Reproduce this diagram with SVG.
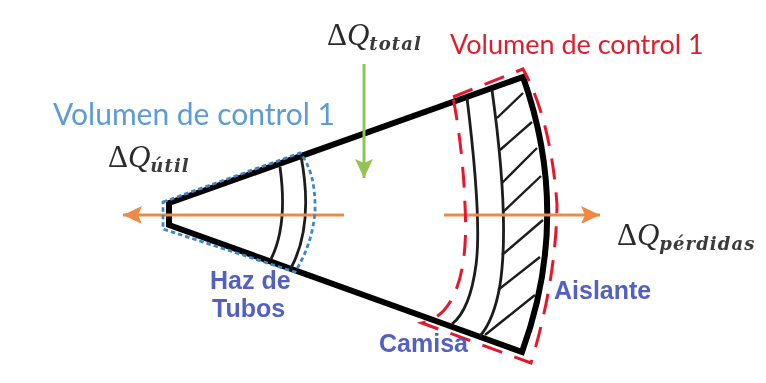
<svg xmlns="http://www.w3.org/2000/svg" width="766" height="383" viewBox="0 0 766 383">
<style>
.thick{fill:none;stroke:#000;stroke-width:6;stroke-linejoin:miter}
.thin{fill:none;stroke:#1c1c1c;stroke-width:2.8}
.hatch{fill:none;stroke:#1c1c1c;stroke-width:2.4}
.red{fill:none;stroke:#e8192c;stroke-width:3;stroke-dasharray:21 13}
.blue{fill:none;stroke:#3f86c4;stroke-width:2.8;stroke-dasharray:4.5 3}
.orange{stroke:#ed8a45;stroke-width:2.8;fill:none}
.green{stroke:#92c353;stroke-width:3;fill:none}
.vol{font-family:Lato,"Open Sans",sans-serif}
.lbl{font-family:"Liberation Sans",Arial,sans-serif;font-size:25px;font-weight:bold;fill:#4452bd;opacity:.92}
.q{font-family:"Liberation Serif","Times New Roman",serif;font-size:31px;fill:#2b2b2b}
.qi{font-style:italic}
.sub{font-family:"DejaVu Serif",serif;font-style:italic;font-weight:bold;font-size:18px;letter-spacing:1.1px;fill:#3a3a3a}
</style>
<defs>
<marker id="ao" markerUnits="userSpaceOnUse" markerWidth="20" markerHeight="20" refX="19" refY="10" orient="auto"><path d="M0 1L19 10L0 19L4 10Z" fill="#ed8a45"/></marker>
<marker id="ag" markerUnits="userSpaceOnUse" markerWidth="20" markerHeight="20" refX="19" refY="10" orient="auto"><path d="M0 1L19 10L0 19L4 10Z" fill="#92c353"/></marker>
<filter id="soft" x="-5%" y="-5%" width="110%" height="110%"><feGaussianBlur stdDeviation="0.5"/></filter>
</defs>
<rect width="766" height="383" fill="#fff"/>
<g id="body" filter="url(#soft)">
<path class="thick" d="M169 225L169 203L523 77Q572 215 522 352Z"/>
<path class="thin" d="M280 167Q288 225 271 259"/>
<path class="thin" d="M301 156Q314 225 291 268"/>
<path class="thin" d="M467 98Q482 220 476 265Q470 310 452 324"/>
<path class="thin" d="M492 90Q510 220 500 285Q494 320 480 336"/>
<path class="hatch" d="M497 118L523 93M500 150L532 122M502 183L537 148M503 212L541 176M502 255L543 220M498 290L540 257M485 335L535 295"/>
</g>
<g id="connectors" filter="url(#soft)">
<path class="orange" d="M344 215L123 215" marker-end="url(#ao)"/>
<path class="orange" d="M444 215L600 215" marker-end="url(#ao)"/>
<path class="green" d="M364 64L364 178" marker-end="url(#ag)"/>
</g>
<g id="vc-blue" filter="url(#soft)">
<path class="blue" d="M163 202L300 153Q316 172 315 212Q312 245 295 272L163 229Z"/>
</g>
<g id="vc-red" filter="url(#soft)">
<path class="red" d="M453 97L523 69Q551 120 557 205Q556 280 531 363L422 323Q445 318 456 290Q468 260 465 205Q463 150 453 97Z"/>
</g>
<g id="labels" filter="url(#soft)">
<text class="vol" x="450" y="54" font-size="27" fill="#e01f2d">Volumen de control 1</text>
<text class="vol" x="53" y="125" font-size="30" fill="#5b9bd5">Volumen de control 1</text>
<text class="q" x="108" y="167">Δ<tspan class="qi">Q</tspan><tspan class="sub" dy="5">útil</tspan></text>
<text class="q" x="327" y="45">Δ<tspan class="qi">Q</tspan><tspan class="sub" dy="5">total</tspan></text>
<text class="q" x="617" y="245">Δ<tspan class="qi">Q</tspan><tspan class="sub" dy="5">pérdidas</tspan></text>
<text class="lbl" x="210" y="289">Haz de</text>
<text class="lbl" x="212" y="317">Tubos</text>
<text class="lbl" x="379" y="352">Camisa</text>
<text class="lbl" x="554" y="299">Aislante</text>
</g>
</svg>
